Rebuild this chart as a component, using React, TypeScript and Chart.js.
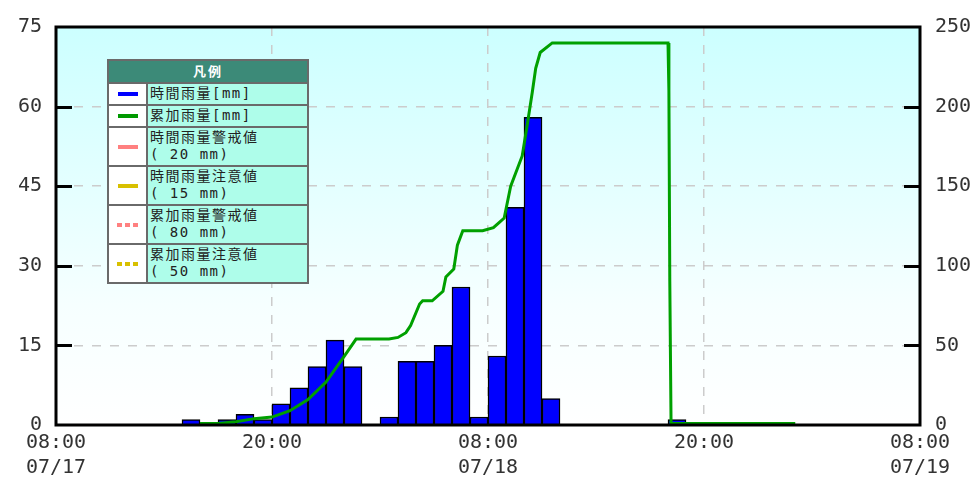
import React, { useEffect, useRef } from "react";
import { Chart, registerables } from "chart.js";
Chart.register(...registerables);

// x axis: hours elapsed since 07/17 08:00
const X_TICK_VALUES = [0, 12, 24, 36, 48];
const X_TICK_LABELS: (string | string[])[] = [
  ["08:00", "07/17"],
  "20:00",
  ["08:00", "07/18"],
  "20:00",
  ["08:00", "07/19"],
];

// hourly rainfall [mm], index = hour since 07/17 08:00
const HOURLY_RAIN = [
  0, 0, 0, 0, 0, 0, 0, 1, 0, 1, 2, 1,
  4, 7, 11, 16, 11, 0, 1.5, 12, 12, 15, 26, 1.5,
  13, 41, 58, 5, 0, 0, 0, 0, 0, 0, 1, 0,
  0, 0, 0, 0, 0, 0, 0, 0, 0, 0, 0, 0,
];

// cumulative rainfall [mm] at time (hours since 07/17 08:00)
const CUM_T = [
  8, 9, 10, 11, 12, 13, 14, 15, 16, 16.67, 18.5, 19, 19.44, 19.7, 20.2, 20.37,
  20.9, 21.5, 21.66, 22.1, 22.3, 22.6, 23.7, 24.3, 24.6, 24.9, 25.26, 25.9,
  26.2, 26.46, 26.65, 26.9, 27.57, 34.0, 34.05, 34.1, 34.17, 41.07,
];
const CUM_MM = [
  1, 1, 2, 4, 5, 9, 16, 27, 43, 54, 54, 55, 58, 62.5, 76, 78,
  78, 84, 93, 98, 113, 122, 122, 124, 127, 130, 150, 169,
  190, 209, 224, 234, 240, 240, 210, 90, 1, 1,
];

const LEFT_TICKS = [0, 15, 30, 45, 60, 75];
const RIGHT_TICKS = [0, 50, 100, 150, 200, 250];

const LEGEND_TITLE = "凡例";
const LEGEND_LABELS = [
  ["時間雨量[mm]"],
  ["累加雨量[mm]"],
  ["時間雨量警戒値", "( 20 mm)"],
  ["時間雨量注意値", "( 15 mm)"],
  ["累加雨量警戒値", "( 80 mm)"],
  ["累加雨量注意値", "( 50 mm)"],
];
const LEGEND_COLORS = ["#0000ff", "#009900", "#ff8080", "#d8c000", "#ff8080", "#d8c000"];
const LEGEND_DASHED = [false, false, false, false, true, true];

const FONT = "'DejaVu Sans Mono', monospace";

const bgPlugin = {
  id: "bgPlugin",
  beforeDraw(chart: any) {
    const { ctx, chartArea: a } = chart;
    const g = ctx.createLinearGradient(0, a.top, 0, a.bottom);
    g.addColorStop(0, "#ccffff");
    g.addColorStop(0.7, "#f6ffff");
    g.addColorStop(1, "#ffffff");
    ctx.save();
    ctx.fillStyle = g;
    ctx.fillRect(a.left, a.top, a.right - a.left, a.bottom - a.top);
    ctx.restore();
  },
  afterDraw(chart: any) {
    const { ctx, chartArea: a, scales } = chart;
    ctx.save();
    ctx.strokeStyle = "#000";
    ctx.lineWidth = 3;
    ctx.beginPath();
    LEFT_TICKS.forEach((v) => {
      if (v === 0 || v === 75) return;
      const y = Math.round(scales.y.getPixelForValue(v)) + 0.5;
      ctx.moveTo(a.left, y);
      ctx.lineTo(a.left + 16, y);
    });
    RIGHT_TICKS.forEach((v) => {
      if (v === 0 || v === 250) return;
      const y = Math.round(scales.y1.getPixelForValue(v)) + 0.5;
      ctx.moveTo(a.right - 16, y);
      ctx.lineTo(a.right, y);
    });
    ctx.stroke();
    ctx.strokeRect(a.left, a.top, a.right - a.left, a.bottom - a.top);
    ctx.restore();
  },
};

function LegendBox() {
  const textFont = "'DejaVu Sans Mono', 'Noto Sans CJK JP', monospace";
  return (
    <div
      style={{
        position: "absolute",
        left: 107,
        top: 59,
        width: 198,
        border: "2px solid #6a6a6a",
        fontFamily: textFont,
        fontSize: 14,
        color: "#222",
        background: "#6a6a6a",
      }}
    >
      <div
        style={{
          height: 21,
          background: "#3c8a78",
          color: "#fff",
          fontWeight: "bold",
          textAlign: "center",
          lineHeight: "21px",
          fontSize: 13,
          letterSpacing: 2,
        }}
      >
        {LEGEND_TITLE}
      </div>
      {LEGEND_LABELS.map((lines, i) => {
        const h = lines.length > 1 ? 37 : 20;
        return (
          <div key={i} style={{ display: "flex", height: h, marginTop: 2 }}>
            <div
              style={{
                width: 37,
                background: "#fff",
                display: "flex",
                alignItems: "center",
                justifyContent: "center",
                marginRight: 2,
              }}
            >
              {LEGEND_DASHED[i] ? (
                <div style={{ display: "flex", gap: 3 }}>
                  {[0, 1, 2].map((k) => (
                    <div key={k} style={{ width: 5, height: 4, background: LEGEND_COLORS[i] }} />
                  ))}
                </div>
              ) : (
                <div style={{ width: 20, height: 4, background: LEGEND_COLORS[i] }} />
              )}
            </div>
            <div
              style={{
                flex: 1,
                background: "#aefdea",
                paddingLeft: 2,
                lineHeight: "17px",
                paddingTop: 1,
                whiteSpace: "pre",
                letterSpacing: 1.5,
                overflow: "hidden",
              }}
            >
              {lines.map((t, k) => (
                <div key={k}>{t}</div>
              ))}
            </div>
          </div>
        );
      })}
    </div>
  );
}

export default function App() {
  const ref = useRef<HTMLCanvasElement>(null);
  useEffect(() => {
    if (!ref.current) return;
    const barData = HOURLY_RAIN.map((v, h) => ({ x: h + 0.5, y: v > 0 ? v : null }));
    const lineData = CUM_T.map((t, i) => ({ x: t, y: CUM_MM[i] }));
    const chart = new Chart(ref.current, {
      type: "bar",
      data: {
        datasets: [
          {
            type: "line",
            label: "累加雨量[mm]",
            data: lineData as any,
            yAxisID: "y1",
            borderColor: "#00a000",
            borderWidth: 3,
            pointRadius: 0,
            tension: 0,
            fill: false,
            order: 0,
          },
          {
            type: "bar",
            label: "時間雨量[mm]",
            data: barData as any,
            yAxisID: "y",
            backgroundColor: "#0000ff",
            borderColor: "#000",
            borderWidth: 1.5,
            barPercentage: 1,
            categoryPercentage: 1,
            order: 1,
          },
        ] as any,
      },
      plugins: [bgPlugin],
      options: {
        animation: false,
        responsive: true,
        maintainAspectRatio: false,
        layout: { padding: { top: 25, left: 0, right: 0, bottom: 0 } },
        plugins: { legend: { display: false }, tooltip: { enabled: false } },
        scales: {
          x: {
            type: "linear",
            min: 0,
            max: 48,
            offset: false,
            afterBuildTicks: (s: any) => {
              s.ticks = X_TICK_VALUES.map((v) => ({ value: v }));
            },
            afterFit: (s: any) => {
              s.height = 62;
            },
            ticks: {
              autoSkip: false,
              maxRotation: 0,
              padding: 5,
              color: "#333",
              font: { family: FONT, size: 20, lineHeight: 1.25 },
              callback: (v: any) => {
                const i = X_TICK_VALUES.indexOf(Number(v));
                return i >= 0 ? X_TICK_LABELS[i] : "";
              },
            },
            grid: {
              offset: false,
              color: (c: any) => (c.tick && (c.tick.value === 0 || c.tick.value === 48) ? "rgba(0,0,0,0)" : "#cccccc"),
              lineWidth: 1.5,
              drawTicks: false,
            },
            border: { display: false, dash: [9, 9] },
          },
          y: {
            position: "left",
            min: 0,
            max: 75,
            afterBuildTicks: (s: any) => {
              s.ticks = LEFT_TICKS.map((v) => ({ value: v }));
            },
            afterFit: (s: any) => {
              s.width = 56;
            },
            ticks: {
              padding: 14,
              color: "#333",
              font: { family: FONT, size: 20 },
            },
            grid: {
              color: (c: any) => (c.tick && (c.tick.value === 0 || c.tick.value === 75) ? "rgba(0,0,0,0)" : "#cccccc"),
              lineWidth: 1.5,
              drawTicks: false,
            },
            border: { display: false, dash: [9, 9] },
          },
          y1: {
            position: "right",
            min: 0,
            max: 250,
            afterBuildTicks: (s: any) => {
              s.ticks = RIGHT_TICKS.map((v) => ({ value: v }));
            },
            afterFit: (s: any) => {
              s.width = 60;
            },
            ticks: {
              padding: 15,
              color: "#333",
              font: { family: FONT, size: 20 },
            },
            grid: { display: false, drawTicks: false },
            border: { display: false },
          },
        },
      } as any,
    });
    return () => chart.destroy();
  }, []);
  return (
    <div style={{ position: "fixed", left: 0, top: 0, width: 980, height: 487, background: "#fff" }}>
      <canvas ref={ref} />
      <LegendBox />
    </div>
  );
}
